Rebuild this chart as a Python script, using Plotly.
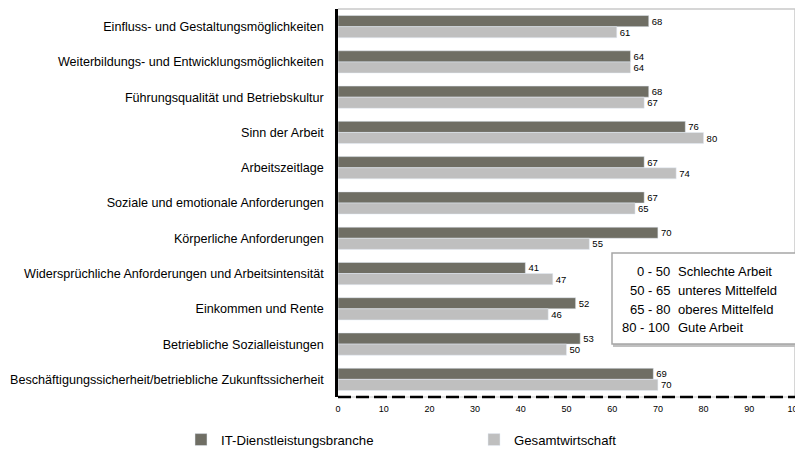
import plotly.graph_objects as go

categories = [
    "Einfluss- und Gestaltungsmöglichkeiten",
    "Weiterbildungs- und Entwicklungsmöglichkeiten",
    "Führungsqualität und Betriebskultur",
    "Sinn der Arbeit",
    "Arbeitszeitlage",
    "Soziale und emotionale Anforderungen",
    "Körperliche Anforderungen",
    "Widersprüchliche Anforderungen und Arbeitsintensität",
    "Einkommen und Rente",
    "Betriebliche Sozialleistungen",
    "Beschäftigungssicherheit/betriebliche Zukunftssicherheit",
]
it_values = [68, 64, 68, 76, 67, 67, 70, 41, 52, 53, 69]
gesamt_values = [61, 64, 67, 80, 74, 65, 55, 47, 46, 50, 70]
series_names = ["IT-Dienstleistungsbranche", "Gesamtwirtschaft"]
x_ticks = [0, 10, 20, 30, 40, 50, 60, 70, 80, 90, 100]
range_labels = ["0 - 50", "50 - 65", "65 - 80", "80 - 100"]
range_texts = ["Schlechte Arbeit", "unteres Mittelfeld", "oberes Mittelfeld", "Gute Arbeit"]

FONT = "Liberation Sans, Arial, sans-serif"

fig = go.Figure()
fig.add_trace(go.Bar(
    y=categories, x=it_values, orientation="h", name=series_names[0],
    marker=dict(color="#6f6e64"), text=it_values, textposition="outside",
    textfont=dict(size=9.5, color="black", family=FONT), cliponaxis=False,
))
fig.add_trace(go.Bar(
    y=categories, x=gesamt_values, orientation="h", name=series_names[1],
    marker=dict(color="#bfbfbf"), text=gesamt_values, textposition="outside",
    textfont=dict(size=9.5, color="black", family=FONT), cliponaxis=False,
))

# plot area light border (top/right), dashed bottom
fig.add_shape(type="line", xref="paper", yref="paper", x0=0, x1=1, y0=1, y1=1,
              line=dict(color="#c8c8c8", width=1.5))
fig.add_shape(type="line", xref="paper", yref="paper", x0=1, x1=1, y0=0, y1=1,
              line=dict(color="#c8c8c8", width=1.5))
fig.add_shape(type="line", xref="paper", yref="paper", x0=0, x1=1, y0=0, y1=0,
              line=dict(color="#c8c8c8", width=1))
fig.add_shape(type="line", xref="paper", yref="paper", x0=0, x1=1, y0=0, y1=0,
              line=dict(color="black", width=2.5, dash="13px,5px"))

# reference-pixel helpers (page body has an 8px margin)
plot_top, plot_bottom, plot_left, plot_right = 9, 397, 338, 795
def px_x(p):
    return (p - plot_left) / (plot_right - plot_left)
def px_y(p):
    return (plot_bottom - p) / (plot_bottom - plot_top)

fig.add_shape(type="rect", xref="paper", yref="paper",
              x0=px_x(614), x1=px_x(799), y0=px_y(346), y1=px_y(255),
              line=dict(color="#c0c0c0", width=2), fillcolor="#c0c0c0")
fig.add_shape(type="rect", xref="paper", yref="paper",
              x0=px_x(612), x1=px_x(797), y0=px_y(344), y1=px_y(253),
              line=dict(color="#a6a6a6", width=1.5), fillcolor="white")
line_y = [271, 290, 309, 327]
for lbl, txt, yy in zip(range_labels, range_texts, line_y):
    fig.add_annotation(xref="paper", yref="paper", x=px_x(672), y=px_y(yy),
                       text=lbl, showarrow=False, xanchor="right", yanchor="middle",
                       font=dict(size=13, color="black", family=FONT))
    fig.add_annotation(xref="paper", yref="paper", x=px_x(676), y=px_y(yy),
                       text=txt, showarrow=False, xanchor="left", yanchor="middle",
                       font=dict(size=13, color="black", family=FONT))

W, H, OFF = 803, 449, 8
fig.update_layout(
    width=W - OFF, height=H - OFF,
    margin=dict(l=plot_left - OFF, r=W - plot_right, t=plot_top - OFF,
                b=H - plot_bottom, autoexpand=False),
    barmode="group", bargap=0.37, bargroupgap=0.0,
    plot_bgcolor="white", paper_bgcolor="white",
    font=dict(family=FONT, color="black"),
    showlegend=True,
    legend=dict(orientation="h", x=px_x(181), y=px_y(440), xanchor="left", yanchor="middle",
                entrywidth=248, font=dict(size=13.2, family=FONT),
                bgcolor="rgba(0,0,0,0)"),
    xaxis=dict(range=[0, 100], tickvals=x_ticks, showgrid=False, zeroline=False,
               showline=False, ticks="", automargin=False, ticklabelstandoff=5,
               ticklabeloverflow="allow",
               tickfont=dict(size=9, family=FONT)),
    yaxis=dict(categoryorder="array", categoryarray=categories, autorange="reversed",
               showline=True, linecolor="black", linewidth=2.5, ticks="",
               showgrid=False, ticklabelstandoff=9, automargin=False,
               tickfont=dict(size=12.6, family=FONT)),
)

fig.write_html("out.html")
